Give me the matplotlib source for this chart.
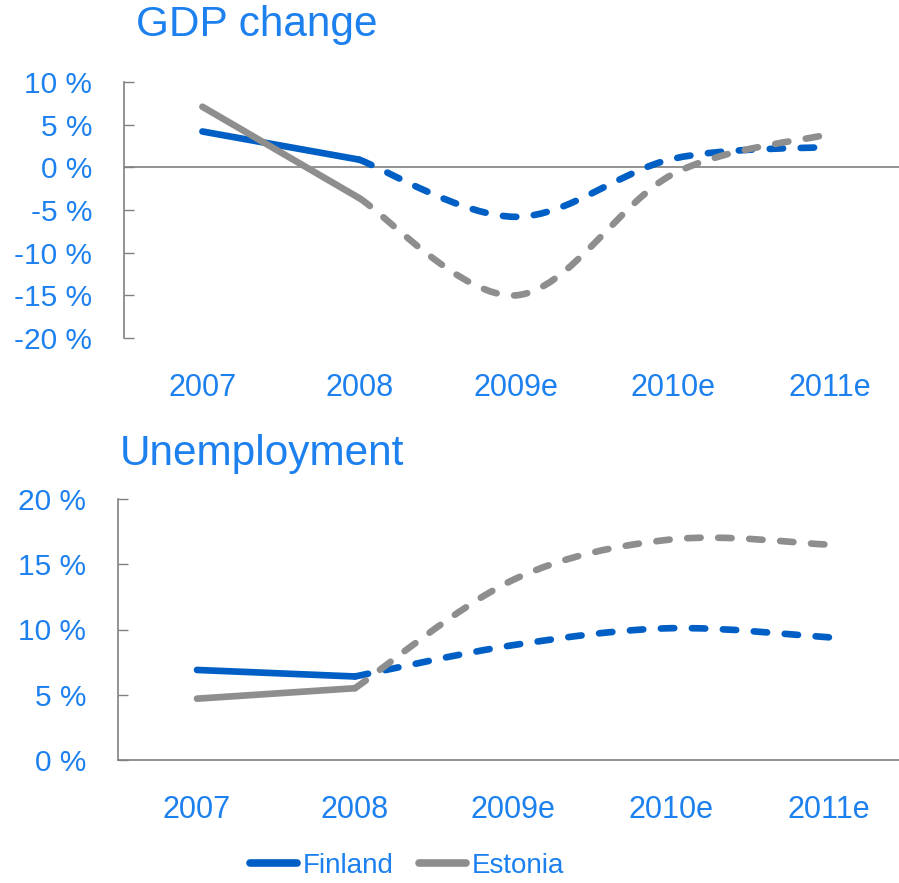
import matplotlib
matplotlib.use("Agg")
import matplotlib.pyplot as plt
from matplotlib.path import Path
from matplotlib.patches import PathPatch
from matplotlib.lines import Line2D
from matplotlib.ticker import FuncFormatter

plt.rcParams['font.family'] = ['Liberation Sans', 'DejaVu Sans']

years = ['2007', '2008', '2009e', '2010e', '2011e']
gdp_finland = [4.2, 0.9, -5.8, 1.0, 2.4]
gdp_estonia = [7.1, -3.6, -15.0, -0.8, 3.9]
unemp_finland = [6.9, 6.4, 8.8, 10.1, 9.4]
unemp_estonia = [4.7, 5.5, 13.8, 16.9, 16.5]
n_actual = 2  # first two years are actual figures, rest are estimates

BLUE = '#005FC4'
GRAY = '#8E8E8E'
TXT = '#1C80EE'
AX = '#808080'
LW = 4.8


def smooth_path(xs, ys):
    # Bezier path through the points (spreadsheet-style smoothed line)
    pts = list(zip(xs, ys))
    n = len(pts)
    verts = [pts[0]]
    codes = [Path.MOVETO]
    for i in range(n - 1):
        p0 = pts[i - 1] if i > 0 else pts[i]
        p1 = pts[i]
        p2 = pts[i + 1]
        p3 = pts[i + 2] if i + 2 < n else pts[i + 1]
        c1 = (p1[0] + (p2[0] - p0[0]) / 6, p1[1] + (p2[1] - p0[1]) / 6)
        c2 = (p2[0] - (p3[0] - p1[0]) / 6, p2[1] - (p3[1] - p1[1]) / 6)
        verts += [c1, c2, p2]
        codes += [Path.CURVE4] * 3
    return Path(verts, codes)


def draw_series(ax, vals, color):
    x = list(range(len(vals)))
    ax.plot(x[:n_actual], vals[:n_actual], color=color, lw=LW,
            solid_capstyle='round', solid_joinstyle='round', zorder=3)
    xe = x[n_actual - 1:]
    ye = vals[n_actual - 1:]
    patch = PathPatch(smooth_path(xe, ye), fill=False, edgecolor=color,
                      lw=LW, linestyle=(0, (2.0, 2.65)), capstyle='round',
                      joinstyle='round', zorder=3)
    ax.add_patch(patch)


def style_axes(ax, ylim, yticks):
    ax.set_xlim(-0.5, len(years) - 0.5)
    ax.set_ylim(*ylim)
    ax.set_yticks(yticks)
    ax.yaxis.set_major_formatter(FuncFormatter(lambda v, p: f'{v:.0f} %'))
    ax.set_xticks(range(len(years)))
    ax.set_xticklabels(years)
    for s in ['top', 'right']:
        ax.spines[s].set_visible(False)
    ax.spines['left'].set_color(AX)
    ax.spines['left'].set_linewidth(1.2)
    ax.spines['bottom'].set_color(AX)
    ax.spines['bottom'].set_linewidth(1.2)
    ax.tick_params(axis='y', direction='in', length=7, width=1.0, color=AX,
                   pad=23, labelsize=21.5, labelcolor=TXT)
    ax.tick_params(axis='x', length=0, pad=25, labelsize=22, labelcolor=TXT)
    ax.set_facecolor('none')


fig = plt.figure(figsize=(8.99, 8.83), dpi=100)

# GDP change
ax1 = fig.add_axes([124 / 899, 1 - 338 / 883, (908 - 124) / 899, (338 - 82) / 883])
style_axes(ax1, (-20, 10), range(-20, 11, 5))
ax1.spines['bottom'].set_visible(False)
ax1.axhline(0, color=AX, lw=1.2, zorder=1)
draw_series(ax1, gdp_finland, BLUE)
draw_series(ax1, gdp_estonia, GRAY)

# Unemployment
ax2 = fig.add_axes([118 / 899, 1 - 760 / 883, (908 - 118) / 899, (760 - 499) / 883])
style_axes(ax2, (0, 20), range(0, 21, 5))
draw_series(ax2, unemp_finland, BLUE)
draw_series(ax2, unemp_estonia, GRAY)

fig.text(136 / 899, 1 - 36 / 883, 'GDP change', fontsize=30.5, color=TXT,
         ha='left', va='baseline')
fig.text(120 / 899, 1 - 465 / 883, 'Unemployment', fontsize=30.5, color=TXT,
         ha='left', va='baseline')

handles = [Line2D([], [], color=BLUE, lw=5.5, solid_capstyle='round'),
           Line2D([], [], color=GRAY, lw=5.5, solid_capstyle='round')]
leg = fig.legend(handles, ['Finland', 'Estonia'], loc='center',
                 bbox_to_anchor=(407 / 899, 1 - 866 / 883), ncol=2,
                 frameon=False, fontsize=20, handlelength=1.7,
                 handletextpad=0.2, columnspacing=0.9, borderpad=0)
for t in leg.get_texts():
    t.set_color(TXT)

fig.savefig('out.png', dpi=100)
